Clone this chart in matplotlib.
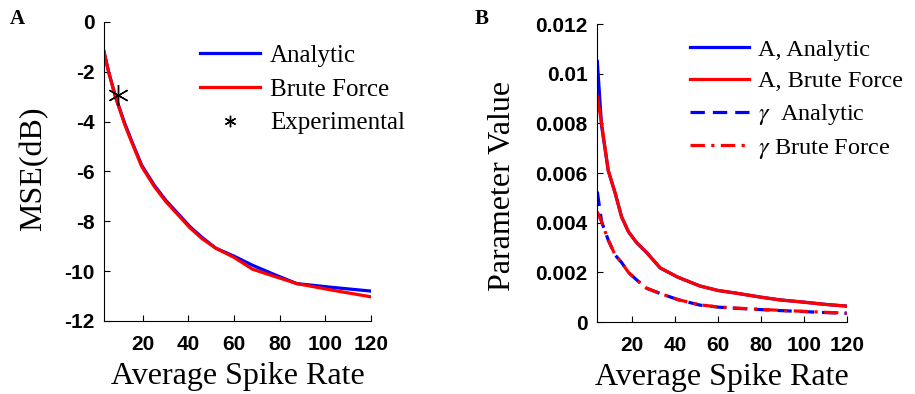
import numpy as np
import matplotlib
matplotlib.use("Agg")
import matplotlib.pyplot as plt

plt.rcParams["mathtext.fontset"] = "stix"

# -----------------------------
# Data
# -----------------------------
rate_a = [3, 5, 8, 12, 15, 19.5, 25, 30, 35, 40.5, 46, 52, 60, 68, 78, 87.5, 104, 120]
mse_analytic = [-1.2, -2.0, -3.0, -4.05, -4.75, -5.75, -6.55, -7.15, -7.65, -8.2, -8.65,
                -9.08, -9.4, -9.76, -10.15, -10.5, -10.66, -10.8]
mse_brute = [-1.2, -2.0, -3.0, -4.1, -4.8, -5.8, -6.6, -7.2, -7.7, -8.25, -8.7,
             -9.08, -9.45, -9.92, -10.22, -10.5, -10.78, -11.03]
exp_rate = [9.3]
exp_mse = [-2.93]

rate_b = [3.7, 5.7, 8.8, 12, 15, 18.2, 22, 26.7, 33, 41.4, 51.6, 60, 68.7, 80, 89, 100, 110, 120]
A_analytic = [0.0105, 0.0079, 0.0061, 0.0052, 0.00424, 0.00364, 0.0032, 0.0028, 0.00218, 0.0018,
              0.00145, 0.00127, 0.00116, 0.00100, 0.00089, 0.00080, 0.00071, 0.00064]
A_brute = [0.0091, 0.0080, 0.0061, 0.0052, 0.00424, 0.00364, 0.0032, 0.0028, 0.00218, 0.0018,
           0.00145, 0.00127, 0.00116, 0.00100, 0.00089, 0.00080, 0.00071, 0.00064]
g_analytic = [0.00525, 0.00404, 0.0033, 0.0027, 0.0024, 0.0020, 0.0017, 0.00136, 0.00115, 0.0009,
              0.00068, 0.0006, 0.00055, 0.0005, 0.00046, 0.00042, 0.00038, 0.00035]
g_brute = [0.00444, 0.00404, 0.0033, 0.0027, 0.0024, 0.0020, 0.0017, 0.00136, 0.00115, 0.0009,
           0.00069, 0.00061, 0.00056, 0.00051, 0.00047, 0.00043, 0.00039, 0.00036]

xticks = [20, 40, 60, 80, 100, 120]
yticks_a = [-12, -10, -8, -6, -4, -2, 0]
yticks_b = [0, 0.002, 0.004, 0.006, 0.008, 0.01, 0.012]

# -----------------------------
# Figure
# -----------------------------
fig = plt.figure(figsize=(9.15, 3.94), dpi=100)
ax1 = fig.add_axes([0.1137, 0.1853, 0.2918, 0.759])
ax2 = fig.add_axes([0.6528, 0.1827, 0.2726, 0.756])

serif = "Liberation Serif"
lw = 2.3


def style(ax):
    for s in ["top", "right"]:
        ax.spines[s].set_visible(False)
    ax.tick_params(direction="in", length=4, width=0.8, pad=7)
    ax.tick_params(axis="x", pad=10)
    for lab in ax.get_xticklabels() + ax.get_yticklabels():
        lab.set_fontfamily("Liberation Sans")
        lab.set_fontweight("bold")
        lab.set_fontsize(15)
    ax.set_xlabel("Average Spike Rate", family=serif, fontsize=23, labelpad=6)


# Panel A
ax1.plot(rate_a, mse_analytic, color="#0000ff", lw=lw, label="Analytic")
ax1.plot(rate_a, mse_brute, color="#ff0000", lw=lw, label="Brute Force")
ax1.plot(exp_rate, exp_mse, ls="none", marker=(6, 2, 0), ms=15, mew=1.0,
         color="black", label="Experimental")
ax1.set_xlim(3, 120)
ax1.set_ylim(-12, 0)
ax1.set_xticks(xticks)
ax1.set_yticks(yticks_a)
ax1.set_yticklabels([str(v) for v in yticks_a])
style(ax1)
ax1.set_ylabel("MSE(dB)", family=serif, fontsize=23)
ax1.yaxis.set_label_coords(-0.21, 0.51)
ax1.legend(loc="upper left", bbox_to_anchor=(0.275, 1.0), frameon=False,
           prop=dict(family=serif, size=18), handlelength=2.4,
           handletextpad=0.4, labelspacing=0.45, markerscale=0.55)

# Panel B
ax2.plot(rate_b, A_analytic, color="#0000ff", lw=lw, label="A, Analytic")
ax2.plot(rate_b, A_brute, color="#ff0000", lw=lw, label="A, Brute Force")
ax2.plot(rate_b, g_analytic, color="#0000ff", lw=lw, ls=(0, (4.5, 2.5)), label=r"$\gamma$  Analytic")
ax2.plot(rate_b, g_brute, color="#ff0000", lw=lw, ls=(0, (4.5, 2, 1, 2)), label=r"$\gamma$ Brute Force")
ax2.set_xlim(3.7, 120)
ax2.set_ylim(0, 0.012)
ax2.set_xticks(xticks)
ax2.set_yticks(yticks_b)
ax2.set_yticklabels(["%g" % v for v in yticks_b])
style(ax2)
ax2.set_ylabel("Parameter Value", family=serif, fontsize=23)
ax2.yaxis.set_label_coords(-0.32, 0.456)
ax2.legend(loc="upper left", bbox_to_anchor=(0.285, 1.025), frameon=False,
           prop=dict(family=serif, size=17.5), handlelength=2.4,
           handletextpad=0.4, labelspacing=0.4)

fig.text(0.011, 0.94, "A", family=serif, weight="bold", fontsize=15)
fig.text(0.519, 0.94, "B", family=serif, weight="bold", fontsize=15)

fig.savefig("out.png", dpi=100)
